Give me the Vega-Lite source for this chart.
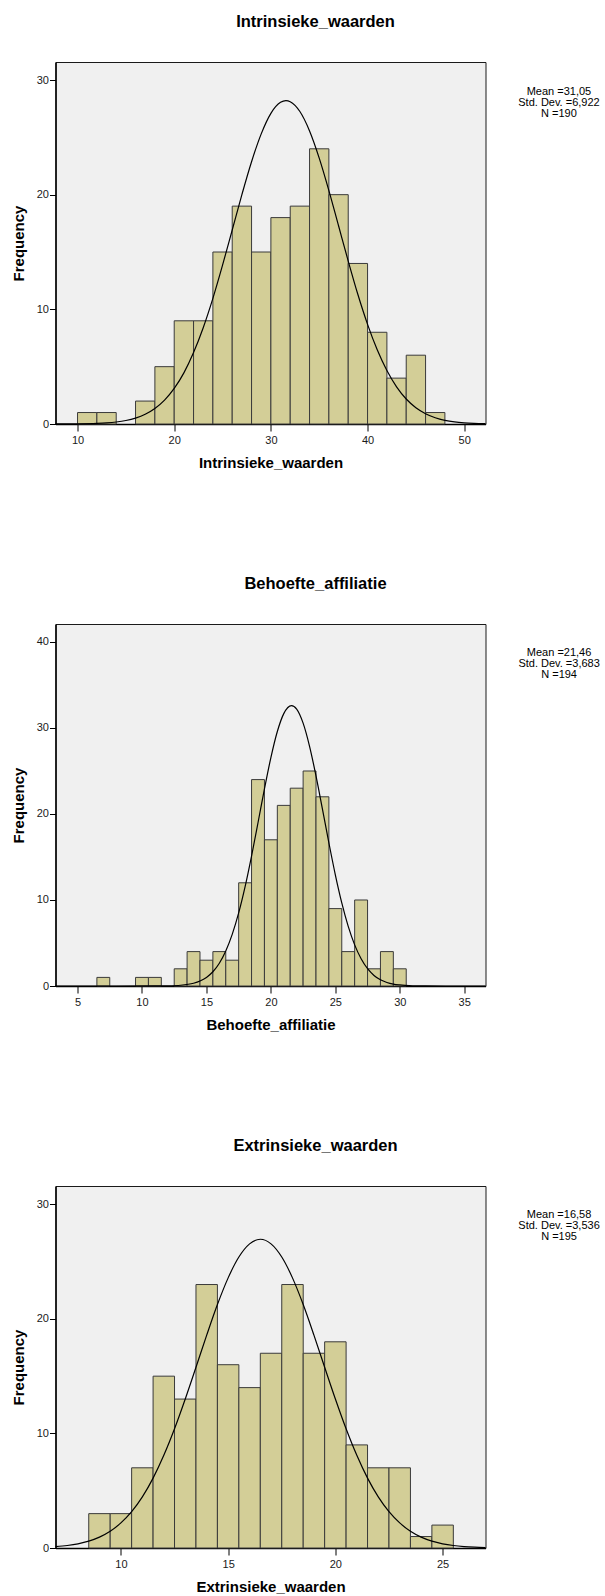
{
  "$schema": "https://vega.github.io/schema/vega-lite/v6.json",
  "background": "white",
  "padding": {"left": 10.5, "top": 13, "right": 0, "bottom": 0},
  "autosize": {"type": "pad"},
  "config": {
    "font": "Liberation Sans",
    "view": {"stroke": "#1a1a1a", "strokeWidth": 1, "fill": "#F0F0F0"},
    "axis": {"grid": false, "domainColor": "#000000", "domainWidth": 1.5, "tickColor": "#000000", "tickWidth": 1, "labelFont": "Liberation Sans", "labelFontSize": 11, "labelColor": "#1a1a1a", "titleFont": "Liberation Sans", "titleFontSize": 15, "titleFontWeight": "bold", "titleColor": "#000000"},
    "axisX": {"tickSize": 7, "labelPadding": 3, "titlePadding": 10},
    "axisY": {"tickSize": 6, "labelPadding": 1, "titlePadding": 9.5},
    "title": {"fontSize": 16.5, "fontWeight": "bold", "color": "#000000", "font": "Liberation Sans", "offset": 31.5, "baseline": "alphabetic", "dx": 45, "anchor": "middle", "frame": "group"},
    "concat": {"spacing": 104}
  },
  "datasets": {
    "bars1": [
      {"bin_start": 10, "bin_end": 12, "count": 1},
      {"bin_start": 12, "bin_end": 14, "count": 1},
      {"bin_start": 16, "bin_end": 18, "count": 2},
      {"bin_start": 18, "bin_end": 20, "count": 5},
      {"bin_start": 20, "bin_end": 22, "count": 9},
      {"bin_start": 22, "bin_end": 24, "count": 9},
      {"bin_start": 24, "bin_end": 26, "count": 15},
      {"bin_start": 26, "bin_end": 28, "count": 19},
      {"bin_start": 28, "bin_end": 30, "count": 15},
      {"bin_start": 30, "bin_end": 32, "count": 18},
      {"bin_start": 32, "bin_end": 34, "count": 19},
      {"bin_start": 34, "bin_end": 36, "count": 24},
      {"bin_start": 36, "bin_end": 38, "count": 20},
      {"bin_start": 38, "bin_end": 40, "count": 14},
      {"bin_start": 40, "bin_end": 42, "count": 8},
      {"bin_start": 42, "bin_end": 44, "count": 4},
      {"bin_start": 44, "bin_end": 46, "count": 6},
      {"bin_start": 46, "bin_end": 48, "count": 1}
    ],
    "curve1": [
      {"x": 7.72, "freq": 0.003}, {"x": 10, "freq": 0.013}, {"x": 12, "freq": 0.05}, {"x": 13, "freq": 0.095},
      {"x": 14, "freq": 0.172}, {"x": 15, "freq": 0.303}, {"x": 16, "freq": 0.516}, {"x": 17, "freq": 0.848},
      {"x": 18, "freq": 1.35}, {"x": 19, "freq": 2.08}, {"x": 20, "freq": 3.1}, {"x": 21, "freq": 4.46},
      {"x": 22, "freq": 6.23}, {"x": 23, "freq": 8.4}, {"x": 24, "freq": 10.96}, {"x": 25, "freq": 13.85},
      {"x": 26, "freq": 16.92}, {"x": 27, "freq": 20.0}, {"x": 28, "freq": 22.87}, {"x": 29, "freq": 25.3},
      {"x": 30, "freq": 27.09}, {"x": 31, "freq": 28.05}, {"x": 31.56, "freq": 28.2}, {"x": 32, "freq": 28.11},
      {"x": 33, "freq": 27.25}, {"x": 34, "freq": 25.56}, {"x": 35, "freq": 23.19}, {"x": 36, "freq": 20.36},
      {"x": 37, "freq": 17.29}, {"x": 38, "freq": 14.21}, {"x": 39, "freq": 11.29}, {"x": 40, "freq": 8.69},
      {"x": 41, "freq": 6.47}, {"x": 42, "freq": 4.66}, {"x": 43, "freq": 3.24}, {"x": 44, "freq": 2.18},
      {"x": 45, "freq": 1.42}, {"x": 46, "freq": 0.9}, {"x": 47, "freq": 0.55}, {"x": 48, "freq": 0.32},
      {"x": 49, "freq": 0.18}, {"x": 50, "freq": 0.1}, {"x": 51, "freq": 0.055}, {"x": 52.2, "freq": 0.025}
    ],
    "stats1": [{"label": "Mean =31,05\nStd. Dev. =6,922\nN =190"}],
    "bars2": [
      {"bin_start": 6.5, "bin_end": 7.5, "count": 1},
      {"bin_start": 9.5, "bin_end": 10.5, "count": 1},
      {"bin_start": 10.5, "bin_end": 11.5, "count": 1},
      {"bin_start": 12.5, "bin_end": 13.5, "count": 2},
      {"bin_start": 13.5, "bin_end": 14.5, "count": 4},
      {"bin_start": 14.5, "bin_end": 15.5, "count": 3},
      {"bin_start": 15.5, "bin_end": 16.5, "count": 4},
      {"bin_start": 16.5, "bin_end": 17.5, "count": 3},
      {"bin_start": 17.5, "bin_end": 18.5, "count": 12},
      {"bin_start": 18.5, "bin_end": 19.5, "count": 24},
      {"bin_start": 19.5, "bin_end": 20.5, "count": 17},
      {"bin_start": 20.5, "bin_end": 21.5, "count": 21},
      {"bin_start": 21.5, "bin_end": 22.5, "count": 23},
      {"bin_start": 22.5, "bin_end": 23.5, "count": 25},
      {"bin_start": 23.5, "bin_end": 24.5, "count": 22},
      {"bin_start": 24.5, "bin_end": 25.5, "count": 9},
      {"bin_start": 25.5, "bin_end": 26.5, "count": 4},
      {"bin_start": 26.5, "bin_end": 27.5, "count": 10},
      {"bin_start": 27.5, "bin_end": 28.5, "count": 2},
      {"bin_start": 28.5, "bin_end": 29.5, "count": 4},
      {"bin_start": 29.5, "bin_end": 30.5, "count": 2}
    ],
    "curve2": [
      {"x": 3.29, "freq": 0}, {"x": 8, "freq": 0}, {"x": 11, "freq": 0.003}, {"x": 12, "freq": 0.02},
      {"x": 13, "freq": 0.088}, {"x": 14, "freq": 0.32}, {"x": 14.5, "freq": 0.58}, {"x": 15, "freq": 1.0},
      {"x": 15.5, "freq": 1.66}, {"x": 16, "freq": 2.65}, {"x": 16.5, "freq": 4.07}, {"x": 17, "freq": 6.0},
      {"x": 17.5, "freq": 8.5}, {"x": 18, "freq": 11.56}, {"x": 18.5, "freq": 15.11}, {"x": 19, "freq": 18.98},
      {"x": 19.5, "freq": 22.91}, {"x": 20, "freq": 26.56}, {"x": 20.5, "freq": 29.59}, {"x": 21, "freq": 31.67},
      {"x": 21.6, "freq": 32.6}, {"x": 22, "freq": 32.19}, {"x": 22.5, "freq": 30.56}, {"x": 23, "freq": 27.87},
      {"x": 23.5, "freq": 24.42}, {"x": 24, "freq": 20.56}, {"x": 24.5, "freq": 16.64}, {"x": 25, "freq": 12.93},
      {"x": 25.5, "freq": 9.66}, {"x": 26, "freq": 6.93}, {"x": 26.5, "freq": 4.78}, {"x": 27, "freq": 3.16},
      {"x": 27.5, "freq": 2.01}, {"x": 28, "freq": 1.23}, {"x": 28.5, "freq": 0.72}, {"x": 29, "freq": 0.41},
      {"x": 29.5, "freq": 0.22}, {"x": 30, "freq": 0.12}, {"x": 31, "freq": 0.03}, {"x": 32, "freq": 0.005},
      {"x": 35, "freq": 0}, {"x": 36.65, "freq": 0}
    ],
    "stats2": [{"label": "Mean =21,46\nStd. Dev. =3,683\nN =194"}],
    "bars3": [
      {"bin_start": 8.5, "bin_end": 9.5, "count": 3},
      {"bin_start": 9.5, "bin_end": 10.5, "count": 3},
      {"bin_start": 10.5, "bin_end": 11.5, "count": 7},
      {"bin_start": 11.5, "bin_end": 12.5, "count": 15},
      {"bin_start": 12.5, "bin_end": 13.5, "count": 13},
      {"bin_start": 13.5, "bin_end": 14.5, "count": 23},
      {"bin_start": 14.5, "bin_end": 15.5, "count": 16},
      {"bin_start": 15.5, "bin_end": 16.5, "count": 14},
      {"bin_start": 16.5, "bin_end": 17.5, "count": 17},
      {"bin_start": 17.5, "bin_end": 18.5, "count": 23},
      {"bin_start": 18.5, "bin_end": 19.5, "count": 17},
      {"bin_start": 19.5, "bin_end": 20.5, "count": 18},
      {"bin_start": 20.5, "bin_end": 21.5, "count": 9},
      {"bin_start": 21.5, "bin_end": 22.5, "count": 7},
      {"bin_start": 22.5, "bin_end": 23.5, "count": 7},
      {"bin_start": 23.5, "bin_end": 24.5, "count": 1},
      {"bin_start": 24.5, "bin_end": 25.5, "count": 2}
    ],
    "curve3": [
      {"x": 6.95, "freq": 0.116}, {"x": 7.5, "freq": 0.218}, {"x": 8, "freq": 0.367}, {"x": 8.5, "freq": 0.6},
      {"x": 9, "freq": 0.951}, {"x": 9.5, "freq": 1.46}, {"x": 10, "freq": 2.19}, {"x": 10.5, "freq": 3.17},
      {"x": 11, "freq": 4.46}, {"x": 11.5, "freq": 6.1}, {"x": 12, "freq": 8.09}, {"x": 12.5, "freq": 10.41},
      {"x": 13, "freq": 13.01}, {"x": 13.5, "freq": 15.78}, {"x": 14, "freq": 18.58}, {"x": 14.5, "freq": 21.25},
      {"x": 15, "freq": 23.58}, {"x": 15.5, "freq": 25.4}, {"x": 16, "freq": 26.55}, {"x": 16.5, "freq": 26.95},
      {"x": 17, "freq": 26.55}, {"x": 17.5, "freq": 25.4}, {"x": 18, "freq": 23.58}, {"x": 18.5, "freq": 21.25},
      {"x": 19, "freq": 18.58}, {"x": 19.5, "freq": 15.78}, {"x": 20, "freq": 13.01}, {"x": 20.5, "freq": 10.41},
      {"x": 21, "freq": 8.09}, {"x": 21.5, "freq": 6.1}, {"x": 22, "freq": 4.46}, {"x": 22.5, "freq": 3.17},
      {"x": 23, "freq": 2.19}, {"x": 23.5, "freq": 1.46}, {"x": 24, "freq": 0.951}, {"x": 24.5, "freq": 0.6},
      {"x": 25, "freq": 0.367}, {"x": 25.5, "freq": 0.218}, {"x": 26, "freq": 0.126}, {"x": 26.5, "freq": 0.071},
      {"x": 27, "freq": 0.038}
    ],
    "stats3": [{"label": "Mean =16,58\nStd. Dev. =3,536\nN =195"}]
  },
  "vconcat": [
    {
      "title": "Intrinsieke_waarden",
      "width": 430, "height": 362,
      "layer": [
        {"data": {"name": "bars1"}, "mark": {"type": "rect", "fill": "#D3CE97", "stroke": "#3a3a3a", "strokeWidth": 1},
         "encoding": {
           "x": {"field": "bin_start", "type": "quantitative", "scale": {"domain": [7.72, 52.2], "nice": false, "zero": false}, "axis": {"values": [10, 20, 30, 40, 50], "title": "Intrinsieke_waarden"}},
           "x2": {"field": "bin_end"},
           "y": {"field": "count", "type": "quantitative", "scale": {"domain": [0, 31.57], "nice": false}, "axis": {"values": [0, 10, 20, 30], "title": "Frequency"}},
           "y2": {"datum": 0}}},
        {"data": {"name": "curve1"}, "mark": {"type": "line", "color": "#000000", "strokeWidth": 1.2, "interpolate": "monotone"},
         "encoding": {"x": {"field": "x", "type": "quantitative"}, "y": {"field": "freq", "type": "quantitative"}}},
        {"data": {"name": "stats1"}, "mark": {"type": "text", "align": "center", "baseline": "top", "lineBreak": "\n", "lineHeight": 11, "fontSize": 11, "color": "#000000"},
         "encoding": {"x": {"datum": 59.8}, "y": {"datum": 29.52}, "text": {"field": "label"}}}
      ]
    },
    {
      "title": "Behoefte_affiliatie",
      "width": 430, "height": 362,
      "layer": [
        {"data": {"name": "bars2"}, "mark": {"type": "rect", "fill": "#D3CE97", "stroke": "#3a3a3a", "strokeWidth": 1},
         "encoding": {
           "x": {"field": "bin_start", "type": "quantitative", "scale": {"domain": [3.29, 36.65], "nice": false, "zero": false}, "axis": {"values": [5, 10, 15, 20, 25, 30, 35], "title": "Behoefte_affiliatie"}},
           "x2": {"field": "bin_end"},
           "y": {"field": "count", "type": "quantitative", "scale": {"domain": [0, 42.09], "nice": false}, "axis": {"values": [0, 10, 20, 30, 40], "title": "Frequency"}},
           "y2": {"datum": 0}}},
        {"data": {"name": "curve2"}, "mark": {"type": "line", "color": "#000000", "strokeWidth": 1.2, "interpolate": "monotone"},
         "encoding": {"x": {"field": "x", "type": "quantitative"}, "y": {"field": "freq", "type": "quantitative"}}},
        {"data": {"name": "stats2"}, "mark": {"type": "text", "align": "center", "baseline": "top", "lineBreak": "\n", "lineHeight": 11, "fontSize": 11, "color": "#000000"},
         "encoding": {"x": {"datum": 42.36}, "y": {"datum": 39.36}, "text": {"field": "label"}}}
      ]
    },
    {
      "title": "Extrinsieke_waarden",
      "width": 430, "height": 362,
      "layer": [
        {"data": {"name": "bars3"}, "mark": {"type": "rect", "fill": "#D3CE97", "stroke": "#3a3a3a", "strokeWidth": 1},
         "encoding": {
           "x": {"field": "bin_start", "type": "quantitative", "scale": {"domain": [6.95, 27.0], "nice": false, "zero": false}, "axis": {"values": [10, 15, 20, 25], "title": "Extrinsieke_waarden"}},
           "x2": {"field": "bin_end"},
           "y": {"field": "count", "type": "quantitative", "scale": {"domain": [0, 31.6], "nice": false}, "axis": {"values": [0, 10, 20, 30], "title": "Frequency"}},
           "y2": {"datum": 0}}},
        {"data": {"name": "curve3"}, "mark": {"type": "line", "color": "#000000", "strokeWidth": 1.2, "interpolate": "monotone"},
         "encoding": {"x": {"field": "x", "type": "quantitative"}, "y": {"field": "freq", "type": "quantitative"}}},
        {"data": {"name": "stats3"}, "mark": {"type": "text", "align": "center", "baseline": "top", "lineBreak": "\n", "lineHeight": 11, "fontSize": 11, "color": "#000000"},
         "encoding": {"x": {"datum": 30.43}, "y": {"datum": 29.55}, "text": {"field": "label"}}}
      ]
    }
  ],
  "resolve": {"scale": {"x": "independent", "y": "independent"}}
}
